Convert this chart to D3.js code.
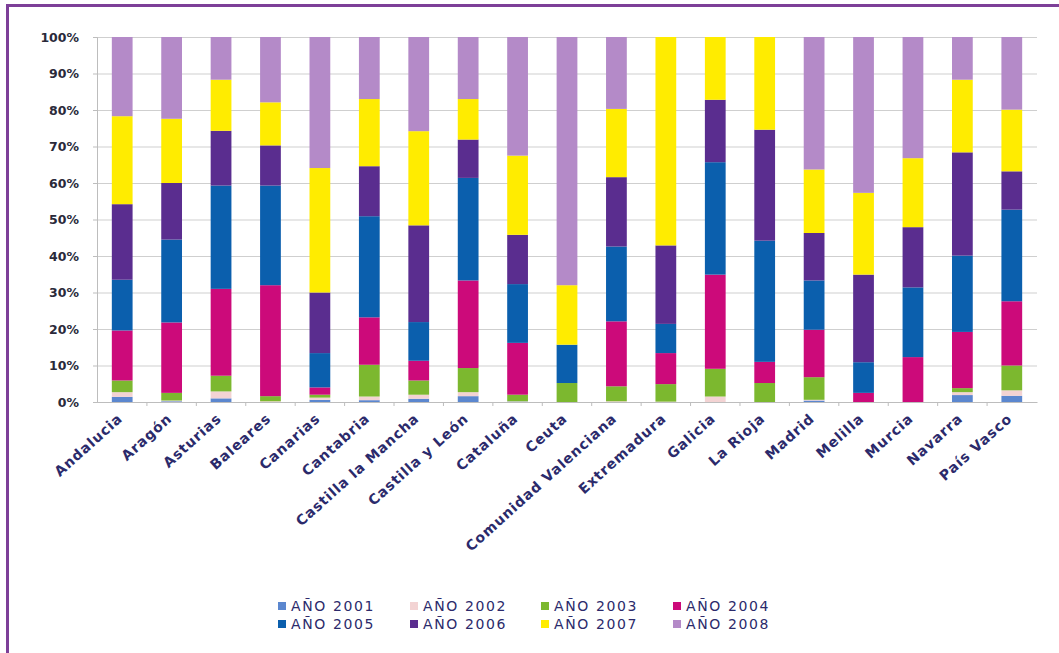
<!DOCTYPE html>
<html>
<head>
<meta charset="utf-8">
<script src="https://cdn.jsdelivr.net/npm/d3@7"></script>
<style>
  body { margin: 0; background: #fff; }
  svg { display: block; }
</style>
</head>
<body>
<script>
var width = 1059;
var height = 653;
var margin = { top: 37, left: 97, right: 22, bottom: 251 };

var regiones = ["Andalucia", "Aragón", "Asturias", "Baleares", "Canarias", "Cantabria",
    "Castilla la Mancha", "Castilla y León", "Cataluña", "Ceuta", "Comunidad Valenciana",
    "Extremadura", "Galicia", "La Rioja", "Madrid", "Melilla", "Murcia", "Navarra", "País Vasco"];

var anios = ["AÑO 2001", "AÑO 2002", "AÑO 2003", "AÑO 2004", "AÑO 2005", "AÑO 2006", "AÑO 2007", "AÑO 2008"];
var colores = ["#5b87cf", "#f3d3d3", "#7cb82f", "#cc0a7a", "#0b5fad", "#5a2d8f", "#ffec00", "#b48ac8"];

// percentages per region, one array per year
var a2001 = [1.4, 0.2, 1.0, 0.0, 0.6, 0.5, 0.9, 1.6, 0.1, 0.0, 0.0, 0.0, 0.0, 0.0, 0.4, 0.0, 0.0, 1.9, 1.7];
var a2002 = [1.3, 0.2, 1.9, 0.2, 0.6, 1.0, 1.1, 1.1, 0.1, 0.0, 0.2, 0.1, 1.5, 0.0, 0.2, 0.0, 0.0, 0.8, 1.5];
var a2003 = [3.2, 2.1, 4.3, 1.4, 0.8, 8.7, 3.9, 6.6, 1.8, 5.2, 4.1, 4.8, 7.6, 5.2, 6.2, 0.0, 0.0, 1.1, 6.8];
var a2004 = [13.7, 19.3, 23.8, 30.4, 2.0, 13.0, 5.4, 24.0, 14.2, 0.0, 17.8, 8.5, 25.8, 5.8, 13.0, 2.5, 12.3, 15.4, 17.6];
var a2005 = [13.9, 22.7, 28.3, 27.3, 9.4, 27.7, 10.6, 28.1, 16.1, 10.5, 20.5, 8.0, 30.8, 33.2, 13.5, 8.4, 19.1, 20.9, 25.1];
var a2006 = [20.7, 15.5, 15.0, 11.0, 16.6, 13.7, 26.5, 10.5, 13.5, 0.0, 19.0, 21.5, 17.1, 30.4, 13.0, 24.0, 16.5, 28.3, 10.5];
var a2007 = [24.1, 17.6, 14.0, 11.8, 34.1, 18.4, 25.8, 11.1, 21.7, 16.3, 18.7, 57.1, 17.2, 25.4, 17.4, 22.4, 18.9, 19.9, 16.9];
var a2008 = [21.7, 22.4, 11.7, 17.9, 35.9, 17.0, 25.8, 17.0, 32.5, 68.0, 19.7, 0.0, 0.0, 0.0, 36.3, 42.7, 33.2, 11.7, 19.9];

var series = [a2001, a2002, a2003, a2004, a2005, a2006, a2007, a2008];
var yTicks = [0, 10, 20, 30, 40, 50, 60, 70, 80, 90, 100];

var rows = regiones.map(function (r, i) {
    var row = { region: r };
    var total = 0;
    series.forEach(function (s) { total += s[i]; });
    anios.forEach(function (a, k) { row[a] = series[k][i] / total * 100; });
    return row;
});

var svg = d3.select("body").append("svg")
    .attr("width", width)
    .attr("height", height);

// purple frame
svg.append("rect")
    .attr("x", 7.5).attr("y", 5.5)
    .attr("width", 1200).attr("height", 800)
    .attr("fill", "none")
    .attr("stroke", "#7d3f98")
    .attr("stroke-width", 3);

var chart = svg.append("g");

var x = d3.scaleBand()
    .domain(regiones)
    .range([margin.left, width - margin.right])
    .paddingInner(0.58)
    .paddingOuter(0.3);

var y = d3.scaleLinear()
    .domain([0, 100])
    .range([height - margin.bottom, margin.top]);

// gridlines
chart.append("g")
    .attr("transform", "translate(" + margin.left + ",0)")
    .call(d3.axisLeft(y).tickValues(yTicks)
        .tickSize(-(width - margin.left - margin.right))
        .tickFormat(""))
    .call(function (g) {
        g.select(".domain").remove();
        g.selectAll("line").attr("stroke", "#cfcfcf").attr("stroke-width", 1);
    });

var stack = d3.stack().keys(anios);
var layers = stack(rows);

chart.selectAll(".layer")
    .data(layers)
    .enter()
    .append("g")
    .attr("class", "layer")
    .attr("fill", function (d, i) { return colores[i]; })
    .selectAll("rect")
    .data(function (d) { return d; })
    .enter()
    .append("rect")
    .attr("x", function (d) { return x(d.data.region); })
    .attr("width", x.bandwidth())
    .attr("y", function (d) { return y(d[1]); })
    .attr("height", function (d) { return y(d[0]) - y(d[1]); });

// y axis
chart.append("g")
    .attr("transform", "translate(" + margin.left + ",0)")
    .call(d3.axisLeft(y).tickValues(yTicks).tickSize(4)
        .tickFormat(function (d) { return d + "%"; }))
    .call(function (g) {
        g.select(".domain").attr("stroke", "#bdbdbd");
        g.selectAll("line").attr("stroke", "#bdbdbd");
        g.selectAll("text")
            .attr("x", -18)
            .attr("fill", "#2a2a3a")
            .style("font-family", "'DejaVu Sans', sans-serif")
            .style("font-weight", "bold")
            .style("font-size", "12.5px");
    });

// x axis
var xAxis = chart.append("g")
    .attr("transform", "translate(0," + y(0) + ")")
    .call(d3.axisBottom(x).tickSize(0));

xAxis.select(".domain").attr("stroke", "#bdbdbd");

// small separators between categories
xAxis.selectAll(".sep")
    .data(regiones.slice(1))
    .enter()
    .append("line")
    .attr("class", "sep")
    .attr("x1", function (d) { return x(d) - x.step() * x.paddingInner() / 2; })
    .attr("x2", function (d) { return x(d) - x.step() * x.paddingInner() / 2; })
    .attr("y1", 0).attr("y2", 4)
    .attr("stroke", "#bdbdbd");

xAxis.selectAll(".tick text")
    .attr("fill", "#2b2a6b")
    .style("font-family", "'DejaVu Sans', sans-serif")
    .style("font-weight", "bold")
    .style("font-size", "14px")
    .style("letter-spacing", "0.9px")
    .attr("text-anchor", "end")
    .attr("dy", "0.35em")
    .attr("transform", "translate(-4,12) rotate(-42)");

// legend
var legend = svg.append("g");
var legX = [278, 410, 541, 673];
var legY = [606, 624];

anios.forEach(function (a, i) {
    var g = legend.append("g")
        .attr("transform", "translate(" + legX[i % 4] + "," + legY[Math.floor(i / 4)] + ")");
    g.append("rect")
        .attr("x", 0).attr("y", -4)
        .attr("width", 8).attr("height", 8)
        .attr("fill", colores[i]);
    g.append("text")
        .attr("x", 13)
        .attr("dy", "0.35em")
        .attr("fill", "#2b2a6b")
        .style("font-family", "'DejaVu Sans', sans-serif")
        .style("font-size", "14px")
        .style("letter-spacing", "1.6px")
        .text(a);
});
</script>
</body>
</html>
